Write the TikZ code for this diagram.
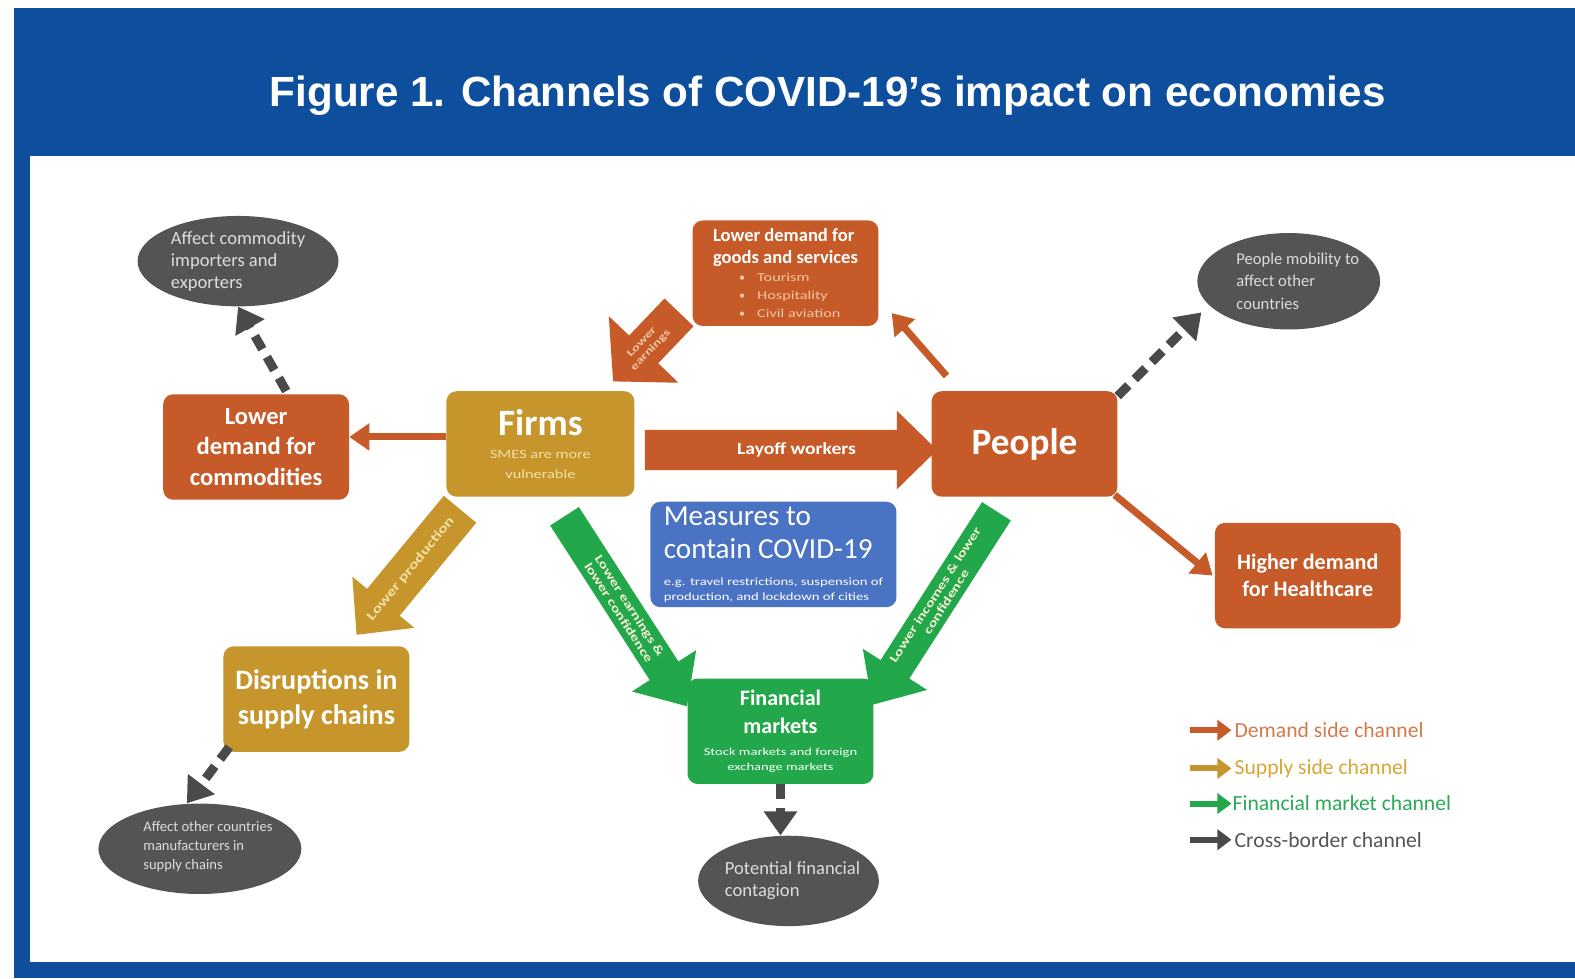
\documentclass[tikz,border=0pt]{standalone}
\usepackage{graphicx}
\usepackage{fontspec}
\setmainfont{Carlito}
\newfontfamily\titlefont{Liberation Sans}
\usetikzlibrary{shapes.geometric,arrows.meta}
\definecolor{frameblue}{HTML}{0D4F9D}
\definecolor{orng}{HTML}{C65A28}
\definecolor{gold}{HTML}{C6962C}
\definecolor{grn}{HTML}{22A84A}
\definecolor{mblue}{HTML}{4A73C4}
\definecolor{dgray}{HTML}{545456}
\definecolor{agray}{HTML}{4A4A4C}
\definecolor{paleyel}{HTML}{F3E2A6}
\definecolor{palepeach}{HTML}{F4C7A6}
\definecolor{lgray}{HTML}{DCDCDC}
\definecolor{legorange}{HTML}{D47A4C}
\definecolor{leggold}{HTML}{D8A733}
\definecolor{leggreen}{HTML}{2AAA58}
\definecolor{leggray}{HTML}{555555}
% block arrow polygon in local frame: #1 length, #2 shaft half width, #3 head half width, #4 head length, #5 colour
\newcommand\blockarrowshape[5]{\fill[#5] (0,-#2) -- ({#1-#4},-#2) -- ({#1-#4},-#3) -- (#1,0) -- ({#1-#4},#3) -- ({#1-#4},#2) -- (0,#2) -- cycle;}
\newcommand\wide[2][1.3]{\scalebox{#1}[1]{#2}}
\tikzset{
  box/.style={rounded corners=10pt, align=center, text=white, inner sep=0pt, minimum width=185pt, minimum height=105pt},
  ell/.style={ellipse, fill=dgray, inner sep=0pt},
  etext/.style={text=lgray, align=left, inner sep=0pt},
  thinarr/.style={draw=orng, line width=7pt, -{Triangle[length=20pt,width=26pt]}},
  dasharr/.style={draw=agray, line width=9pt, dash pattern=on 15pt off 9pt, -{Triangle[length=24pt,width=32pt]}},
  legarr/.style={line width=6pt, -{Triangle[length=14pt,width=20pt]}},
  legtext/.style={anchor=west, font=\fontsize{21.5}{24}\selectfont, inner sep=0pt},
  arrtext/.style={text=white, align=center, inner sep=0pt, transform shape}
}
\begin{document}
\begin{tikzpicture}[x=1pt,y=1pt]
\useasboundingbox (0,0) rectangle (1568,-974);
\fill[white] (0,0) rectangle (1568,-974);
\fill[frameblue] (14,-8) rectangle (1568,-974);
\fill[white] (30,-155) rectangle (1568,-958);
\node[font=\titlefont\bfseries\fontsize{42}{46}\selectfont, text=white] (title) at (824,-95) {Figure 1. Channels of COVID-19’s impact on economies};

% boxes
\node[box, fill=orng, font=\bfseries\fontsize{24.5}{30}\selectfont] (comm) at (255,-445) {Lower\\demand for\\commodities};
\node[box, fill=gold, minimum width=187pt, font=\fontsize{12.5}{20}\selectfont] (firms) at (538,-442)
  {{\bfseries\fontsize{37}{37}\selectfont Firms}\\[3pt]{\color{paleyel}\wide[1.3]{SMES are more}}\\{\color{paleyel}\wide[1.3]{vulnerable}}};
\node[box, fill=orng, font=\bfseries\fontsize{37}{40}\selectfont] (people) at (1020,-442) {People};
\node[box, fill=orng, align=left, font=\fontsize{18.5}{22}\selectfont] (goods) at (782,-272)
  {{\bfseries Lower demand for}\\{\bfseries goods and services}\\[-4pt]
   {\fontsize{12}{14}\selectfont\color{palepeach}\hspace*{26pt}\textbullet\hspace{12pt}\wide[1.35]{Tourism}}\\[-4pt]
   {\fontsize{12}{14}\selectfont\color{palepeach}\hspace*{26pt}\textbullet\hspace{12pt}\wide[1.35]{Hospitality}}\\[-4pt]
   {\fontsize{12}{14}\selectfont\color{palepeach}\hspace*{26pt}\textbullet\hspace{12pt}\wide[1.35]{Civil aviation}}};
\node[box, fill=orng, font=\bfseries\fontsize{22}{27}\selectfont] (health) at (1302,-573) {Higher demand\\for Healthcare};
\node[box, fill=mblue, minimum width=245pt, align=left, font=\fontsize{29}{33}\selectfont] (meas) at (770,-552)
  {Measures to\\contain COVID-19\\[-6pt]{\fontsize{11}{14}\selectfont \wide[1.33]{e.g. travel restrictions, suspension of}}\\[-18pt]{\fontsize{11}{14}\selectfont \wide[1.33]{production, and lockdown of cities}}};
\node[box, fill=gold, font=\bfseries\fontsize{28}{35}\selectfont] (disr) at (315,-696) {Disruptions in\\supply chains};
\node[box, fill=grn, font=\bfseries\fontsize{22}{27}\selectfont] (fin) at (777,-728)
  {Financial\\markets\\[-5pt]{\mdseries\fontsize{10.5}{14}\selectfont \wide[1.38]{Stock markets and foreign}}\\[-12pt]{\mdseries\fontsize{10.5}{14}\selectfont \wide[1.38]{exchange markets}}};

% ellipses
\node[ell, minimum width=200pt, minimum height=90pt] (ecomm) at (237,-260) {};
\node[etext, font=\fontsize{18.5}{22}\selectfont] (ecommtxt) at (237,-260) {Affect commodity\\importers and\\exporters};
\node[ell, minimum width=182pt, minimum height=96pt] (emob) at (1283,-280) {};
\node[etext, font=\fontsize{16.5}{22}\selectfont] (emobtxt) at (1292,-280) {People mobility to\\affect other\\countries};
\node[ell, minimum width=202pt, minimum height=90pt] (eother) at (199,-845) {};
\node[etext, font=\fontsize{14.5}{19}\selectfont] (eothertxt) at (207,-843) {Affect other countries\\manufacturers in\\supply chains};
\node[ell, minimum width=180pt, minimum height=90pt] (econt) at (785,-877) {};
\node[etext, font=\fontsize{18.5}{22}\selectfont] (econttxt) at (789,-877) {Potential financial\\contagion};

% thin demand-side connectors
\draw[thinarr] ([yshift=7pt]firms.west) -- ([yshift=10pt]comm.east);
\draw[thinarr] ([shift={(15pt,15pt)}]people.north west) -- ([shift={(13pt,13pt)}]goods.south east);
\draw[thinarr] ([shift={(-3pt,2pt)}]people.south east) -- ([xshift=-2pt]health.west);

% cross-border connectors
\coordinate (mobtip) at (1196,-311);
\draw[dasharr] ([xshift=30pt,yshift=3pt]comm.north) -- (ecomm.south);
\draw[dasharr] ([yshift=-5pt]people.north east) -- (mobtip);
\draw[dasharr] ([shift={(6pt,5pt)}]disr.south west) -- ([xshift=-13pt]eother.north);
\draw[dasharr] (fin.south) -- (fin.south |- econt.north);

% block arrows
\begin{scope}[shift={(642,-448)}]
  \blockarrowshape{291}{20}{39}{40}{orng}
  \node[arrtext, font=\bfseries\fontsize{17}{20}\selectfont] (layoff) at (151,0) {\wide[1.15]{Layoff workers}};
\end{scope}
\begin{scope}[shift={(676,-311)}, rotate=226.3]
  \blockarrowshape{95}{20}{48}{44}{orng}
  \node[arrtext, rotate=180, text=palepeach, font=\bfseries\fontsize{10.5}{12}\selectfont] (earn) at (47,0) {\wide[1.4]{Lower}\\\wide[1.4]{earnings}};
\end{scope}
\begin{scope}[shift={(458,-507)}, rotate=230.5]
  \blockarrowshape{162}{21}{40}{42}{gold}
  \node[arrtext, rotate=180, text=paleyel, font=\bfseries\fontsize{13}{15}\selectfont] (lprod) at (77,0) {\wide[1.35]{Lower production}};
\end{scope}
\begin{scope}[shift={(562,-514)}, rotate=-57.2]
  \blockarrowshape{225}{17}{38}{42}{grn}
  \node[arrtext, text=paleyel!50!white, font=\bfseries\fontsize{12}{13}\selectfont] (lconf1) at (110,0) {\wide[1.35]{Lower earnings \&}\\\wide[1.35]{lower confidence}};
\end{scope}
\begin{scope}[shift={(992,-509)}, rotate=237.3]
  \blockarrowshape{229}{17}{38}{42}{grn}
  \node[arrtext, rotate=180, text=paleyel!50!white, font=\bfseries\fontsize{12}{13}\selectfont] (lconf2) at (103,0) {\wide[1.35]{Lower incomes \& lower}\\\wide[1.35]{confidence}};
\end{scope}

% legend
\foreach \i/\y/\c in {1/727/orng,2/765/gold,3/800/grn,4/836/agray}{
  \coordinate (ls\i) at (1185,-\y);
  \coordinate (le\i) at (1226,-\y);
  \draw[legarr, draw=\c] (ls\i) -- (le\i);
}
\node[legtext, text=legorange] (leg1) at (1229,-727) {Demand side channel};
\node[legtext, text=leggold] (leg2) at (1229,-765) {Supply side channel};
\node[legtext, text=leggreen] (leg3) at (1227,-800) {Financial market channel};
\node[legtext, text=leggray] (leg4) at (1229,-836) {Cross-border channel};
\end{tikzpicture}
\end{document}
